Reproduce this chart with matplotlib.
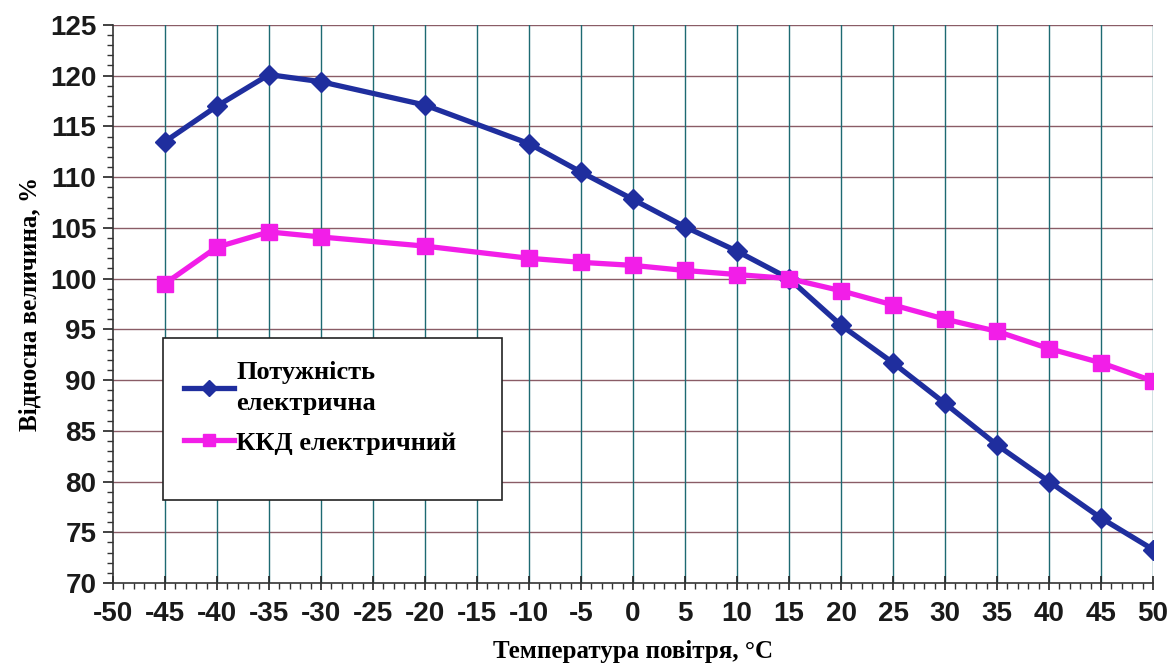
import numpy as np
import matplotlib
matplotlib.use('Agg')
import matplotlib.pyplot as plt
from matplotlib.ticker import MultipleLocator
from matplotlib.patches import Rectangle

# air temperature, deg C
temp = [-45, -40, -35, -30, -20, -10, -5, 0, 5, 10, 15, 20, 25, 30, 35, 40, 45, 50]
# relative electric power, %
power = [113.5, 117.0, 120.1, 119.4, 117.1, 113.3, 110.5, 107.8, 105.1, 102.7,
         100.0, 95.4, 91.7, 87.7, 83.6, 80.0, 76.4, 73.3]
# relative electric efficiency, %
eff = [99.5, 103.1, 104.6, 104.1, 103.2, 102.0, 101.6, 101.3, 100.8, 100.4,
       100.0, 98.8, 97.4, 96.0, 94.8, 93.1, 91.7, 89.9]

xticks = list(range(-50, 51, 5))
yticks = list(range(70, 126, 5))

fig = plt.figure(figsize=(11.72, 6.64), dpi=100)
ax = fig.add_axes([0.0964, 0.122, 0.8874, 0.8405])

for y in yticks[1:]:
    ax.axhline(y, color='#8a5c66', lw=1.0, zorder=1)
for x in xticks[1:]:
    ax.axvline(x, color='#1d6a72', lw=1.0, zorder=1)

ax.plot(temp, power, color='#1f2e9e', lw=3.8, marker='D', ms=10,
        label='Потужність\nелектрична', zorder=3)
ax.plot(temp, eff, color='#f21ee8', lw=3.8, marker='s', ms=11,
        label='ККД електричний', zorder=3)

ax.set_xlim(-50, 50)
ax.set_ylim(70, 125)
ax.set_xticks(xticks)
ax.set_yticks(yticks)
ax.xaxis.set_minor_locator(MultipleLocator(1))
ax.yaxis.set_minor_locator(MultipleLocator(1))
ax.set_xticklabels([str(v) for v in xticks])
ax.set_yticklabels([str(v) for v in yticks])

ax.tick_params(axis='both', which='major', labelsize=20, width=1.2, color='#222222')
ax.tick_params(axis='x', which='major', direction='inout', length=10, pad=8)
ax.tick_params(axis='y', which='major', direction='out', length=7, pad=5)
ax.tick_params(axis='both', which='minor', direction='out', length=4, width=1.0, color='#333333')
for lab in ax.get_xticklabels() + ax.get_yticklabels():
    lab.set_fontweight('bold')
    lab.set_fontfamily('Liberation Sans')
    lab.set_color('#1a1a1a')

for s in ['top', 'right']:
    ax.spines[s].set_visible(False)
ax.spines['left'].set_color('#333333')
ax.spines['bottom'].set_color('#333333')
ax.spines['left'].set_linewidth(1.2)
ax.spines['bottom'].set_linewidth(1.2)

ax.set_xlabel('Температура повітря, °C', fontsize=18, fontweight='bold',
              family='Liberation Serif', labelpad=9)
ax.set_ylabel('Відносна величина, %', fontsize=18, fontweight='bold',
              family='Liberation Serif', labelpad=6)

# legend frame drawn separately (the box has extra room at the bottom)
box = Rectangle((0.048, 0.149), 0.326, 0.29, transform=ax.transAxes,
                facecolor='white', edgecolor='#222222', lw=1.2, zorder=4)
ax.add_patch(box)
leg = ax.legend(loc='upper left', bbox_to_anchor=(0.045, 0.44), frameon=False,
                handlelength=1.9, handletextpad=0.1, borderpad=0.4, labelspacing=0.6,
                prop={'family': 'Liberation Serif', 'weight': 'bold', 'size': 19})
for t in leg.get_texts():
    t.set_linespacing(1.45)
for h in leg.legend_handles:
    h.set_markersize(8)
leg.set_zorder(5)

fig.savefig('out.png', dpi=100)
